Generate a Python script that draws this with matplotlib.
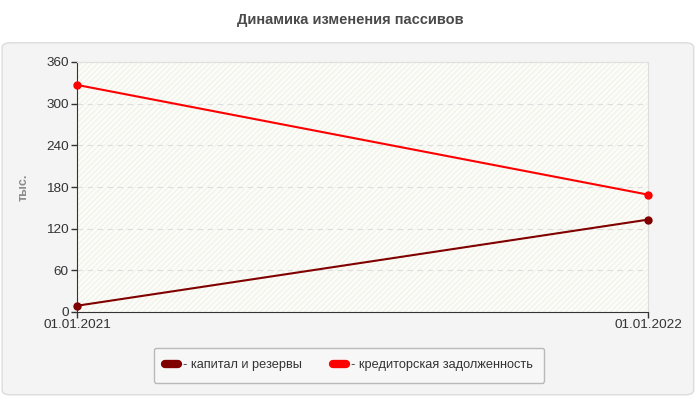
import matplotlib.pyplot as plt
from matplotlib.patches import FancyBboxPatch
from matplotlib.lines import Line2D

dates = ['01.01.2021', '01.01.2022']
kapital = [9, 133]
kreditor = [327, 169]
y_ticks = [0, 60, 120, 180, 240, 300, 360]

plt.rcParams['font.family'] = ['Liberation Sans', 'DejaVu Sans']

fig = plt.figure(figsize=(7, 4), dpi=100)
fig.patch.set_facecolor('white')

# grey panel behind the chart
panel = FancyBboxPatch((0.003, 0.013), 0.988, 0.88, boxstyle='round,pad=0,rounding_size=0.012',
                       transform=fig.transFigure, facecolor='#f4f4f4', edgecolor='#dcdcdc', lw=1,
                       zorder=-5)
fig.patches.append(panel)

fig.text(0.5, 0.95, 'Динамика изменения пассивов', ha='center', va='center',
         fontsize=10.5, fontweight='bold', color='#4a4a4a')

ax = fig.add_axes([77 / 700, 1 - 312 / 400, (648 - 77) / 700, 250 / 400])
ax.set_facecolor('#fdfdf7')
ax.add_patch(plt.Rectangle((0, 0), 1, 1, transform=ax.transAxes, facecolor='none',
                           hatch='//////', edgecolor='#f2f2ee', lw=0, zorder=0))

x = [0, 1]
ax.plot(x, kapital, color='#800000', lw=1.5, marker='o', ms=5, zorder=3, clip_on=False)
ax.plot(x, kreditor, color='#ff0000', lw=1.5, marker='o', ms=5, zorder=3, clip_on=False)

ax.set_xlim(0, 1)
ax.set_ylim(0, 360)
ax.set_yticks(y_ticks)
ax.set_xticks(x)
ax.set_xticklabels(dates)
ax.tick_params(axis='both', labelsize=9.7, colors='#333333', length=4, width=1)
ax.tick_params(axis='x', pad=1)
ax.tick_params(axis='y', pad=2)
ax.grid(axis='y', color='#dddddd', ls=(0, (5, 4)), lw=0.8)
ax.set_axisbelow(True)

ax.spines['top'].set_color('#e0e0e0')
ax.spines['right'].set_color('#dddddd')
ax.spines['left'].set_color('#333333')
ax.spines['bottom'].set_color('#333333')

ax.set_ylabel('тыс.', fontsize=9, color='#8c8c8c', fontweight='bold', labelpad=12)

handles = [Line2D([], [], color='#800000', lw=6, solid_capstyle='round'),
           Line2D([], [], color='#ff0000', lw=6, solid_capstyle='round')]
leg = fig.legend(handles, ['- капитал и резервы', '- кредиторская задолженность'],
                 loc='center', bbox_to_anchor=(349 / 700, 1 - 365 / 400), ncol=2,
                 fontsize=9.2, frameon=True, handlelength=1.0, handletextpad=0.4,
                 columnspacing=2.4, borderpad=0.9, fancybox=True)
leg.get_frame().set_edgecolor('#aaaaaa')
leg.get_frame().set_facecolor('#f9f9f9')
for t in leg.get_texts():
    t.set_color('#333333')

fig.savefig('out.png', dpi=100)
